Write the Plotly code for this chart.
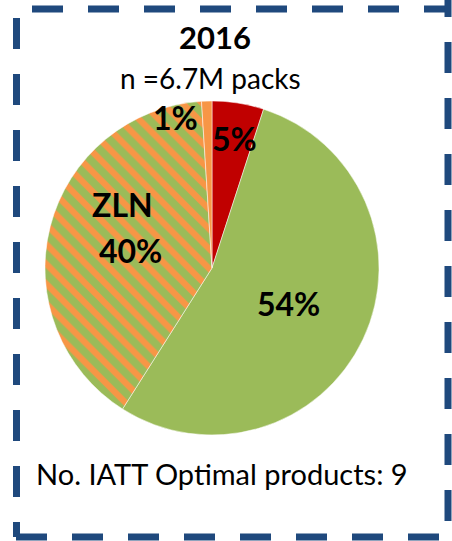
import plotly.graph_objects as go

# slice data, clockwise from 12 o'clock
labels = ["Red", "Green", "ZLN", "Orange"]
values = [5, 54, 40, 1]
colors = ["#C00000", "#9BBB59", "#9BBB59", "#F79646"]
hatch = ["", "", "\\", ""]

# slice labels as they appear on the chart
label_text = ["5%", "54%", "ZLN", "40%", "1%"]

title = "2016"
subtitle = "n =6.7M packs"
footer = "No. IATT Optimal products: 9"

W, H = 452, 541
FONT = "Lato, Open Sans, sans-serif"


def px(x, y):
    return x / W, 1 - y / H


fig = go.Figure(go.Pie(
    labels=labels,
    values=values,
    sort=False,
    direction="clockwise",
    rotation=0,
    textinfo="none",
    hoverinfo="label+percent",
    showlegend=False,
    marker=dict(
        colors=colors,
        line=dict(color="white", width=0.5),
        pattern=dict(shape=hatch, fgcolor="#F79646", bgcolor=colors,
                     fgopacity=1, size=14, solidity=0.45,
                     fillmode="overlay"),
    ),
    domain=dict(x=[45 / W, 379 / W], y=[1 - 435 / H, 1 - 101 / H]),
))

# label centres in pixels (x, y from top)
pos = [(234, 139), (288, 303), (123, 204), (130, 250), (175, 118)]
ann = []
for t, (x, y) in zip(label_text, pos):
    ax, ay = px(x, y)
    ann.append(dict(x=ax, y=ay, xref="paper", yref="paper",
                    xanchor="center", yanchor="middle",
                    text="<b>" + t + "</b>", showarrow=False,
                    font=dict(family=FONT, size=32, color="black")))

for t, (x, y), s in [("<b>" + title + "</b>", (215, 37), 31),
                     (subtitle, (210, 78), 28),
                     (footer, (222, 473), 29)]:
    ax, ay = px(x, y)
    ann.append(dict(x=ax, y=ay, xref="paper", yref="paper",
                    xanchor="center", yanchor="middle",
                    text=t, showarrow=False,
                    font=dict(family=FONT, size=s, color="black")))

# dashed frame, one side at a time so the dash phase matches
BLUE = "#1F497D"
DASH = "31px,25px"
sides = [((32, 9), (448, 9)),       # top
         ((448, -14), (448, 537)),  # right
         ((16.5, 18), (16.5, 537)), # left
         ((16, 537), (448, 537))]   # bottom
shapes = []
for (x0, y0), (x1, y1) in sides:
    a0, b0 = px(x0, y0)
    a1, b1 = px(x1, y1)
    shapes.append(dict(type="line", xref="paper", yref="paper",
                       x0=a0, y0=b0, x1=a1, y1=b1,
                       line=dict(color=BLUE, width=7, dash=DASH)))

fig.update_layout(
    width=W, height=H,
    margin=dict(l=0, r=0, t=0, b=0),
    paper_bgcolor="white",
    plot_bgcolor="white",
    annotations=ann,
    shapes=shapes,
)

fig.write_html("out.html",
               config={"displayModeBar": False},
               post_script="document.body.style.margin='0';"
                           "document.body.style.overflow='hidden';")
